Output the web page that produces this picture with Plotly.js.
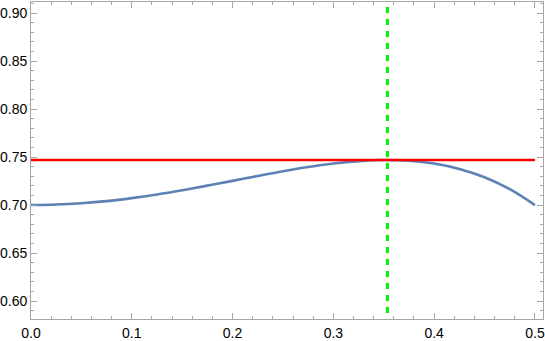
<!DOCTYPE html>
<html>
<head>
<meta charset="utf-8">
<script src="https://cdn.plot.ly/plotly-3.0.1.min.js"></script>
<style>
  html, body { margin: 0; padding: 0; background: #fff; }
  #chart { width: 545px; height: 341px; }
</style>
</head>
<body>
<div id="chart"></div>
<script>
// curve values
var xVals = [0, 0.025, 0.05, 0.075, 0.1, 0.125, 0.15, 0.175, 0.2, 0.225, 0.25,
             0.275, 0.3, 0.325, 0.35, 0.375, 0.4, 0.425, 0.45, 0.475, 0.5];
var curveVals = [0.7000, 0.7005, 0.7019, 0.7041, 0.7072, 0.7110, 0.7154, 0.7202, 0.7252, 0.7303, 0.7352,
                 0.7396, 0.7432, 0.7457, 0.7469, 0.7461, 0.7432, 0.7376, 0.7289, 0.7165, 0.7000];

var levelX = [0, 0.5];
var levelY = [0.7469, 0.7469];

var peakX = [0.3536, 0.3536];
var peakSpan = [0.55, 0.95];

var xRange = [0, 0.508];
var yRange = [0.5813, 0.9115];

var curve = {
  x: xVals,
  y: curveVals,
  type: 'scatter',
  mode: 'lines',
  line: { color: '#5e81b5', width: 2.6, shape: 'spline' },
  hoverinfo: 'skip'
};

var level = {
  x: levelX,
  y: levelY,
  type: 'scatter',
  mode: 'lines',
  line: { color: '#ff0000', width: 2.6 },
  hoverinfo: 'skip'
};

var peak = {
  x: peakX,
  y: peakSpan,
  type: 'scatter',
  mode: 'lines',
  line: { color: '#00ee00', width: 3, dash: '6px,6px' },
  hoverinfo: 'skip'
};

var axisCommon = {
  showgrid: false,
  zeroline: false,
  showline: true,
  linecolor: '#a6a6a6',
  linewidth: 1,
  mirror: 'allticks',
  ticks: 'inside',
  ticklen: 6,
  tickcolor: '#a6a6a6',
  tickwidth: 1,
  tickfont: { family: 'Liberation Sans, Arial, sans-serif', size: 14, color: '#000' },
  fixedrange: true
};

var layout = {
  width: 545,
  height: 341,
  margin: { l: 31, r: 2, t: 2, b: 22 },
  paper_bgcolor: '#fff',
  plot_bgcolor: '#fff',
  showlegend: false,
  xaxis: Object.assign({}, axisCommon, {
    range: xRange,
    tick0: 0,
    dtick: 0.1,
    tickformat: '.1f',
    ticklabelstandoff: 1,
    minor: { ticks: 'inside', dtick: 0.02, ticklen: 3, tickcolor: '#a6a6a6', showgrid: false }
  }),
  yaxis: Object.assign({}, axisCommon, {
    range: yRange,
    tick0: 0.6,
    dtick: 0.05,
    tickformat: '.2f',
    minor: { ticks: 'inside', dtick: 0.01, ticklen: 3, tickcolor: '#a6a6a6', showgrid: false }
  })
};

Plotly.newPlot('chart', [curve, level, peak], layout, { displayModeBar: false, staticPlot: true });
</script>
</body>
</html>
